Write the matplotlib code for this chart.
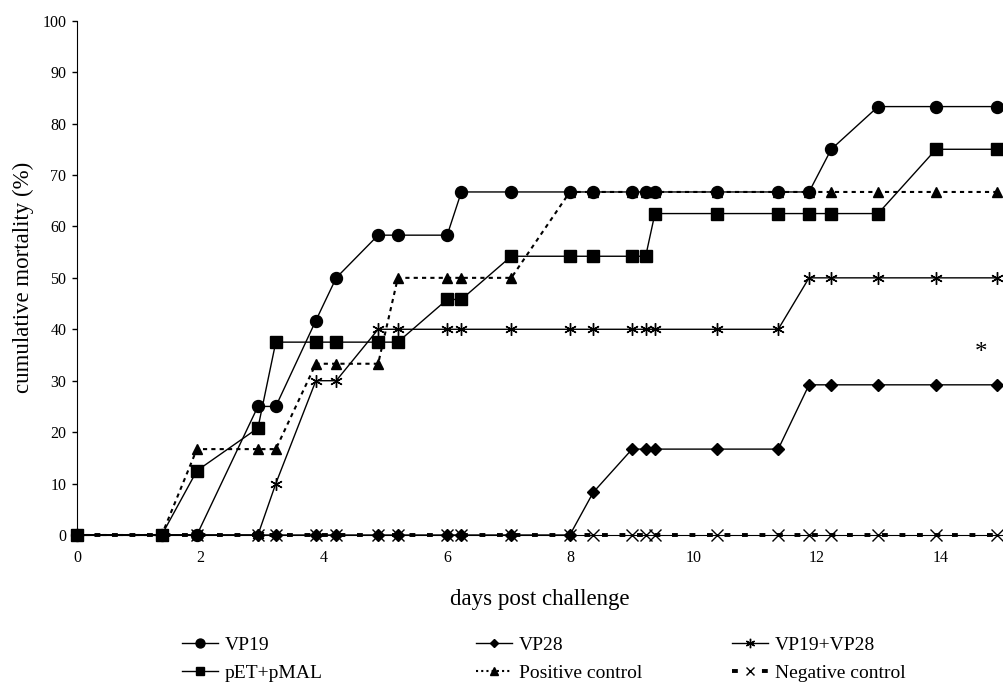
import matplotlib
matplotlib.use("Agg")
import matplotlib.pyplot as plt
from matplotlib.lines import Line2D

plt.rcParams['font.family'] = ['Liberation Serif', 'DejaVu Serif']

# sampling times (days post challenge)
days = [0, 1.37, 1.94, 2.93, 3.22, 3.87, 4.2, 4.88, 5.2, 6.0, 6.23, 7.04,
        7.99, 8.37, 9.0, 9.22, 9.37, 10.38, 11.37, 11.87, 12.23, 12.99, 13.93, 14.92]

# cumulative mortality (%) per group
vp19 = [0, 0, 0, 25, 25, 41.7, 50, 58.3, 58.3, 58.3, 66.7, 66.7,
        66.7, 66.7, 66.7, 66.7, 66.7, 66.7, 66.7, 66.7, 75, 83.3, 83.3, 83.3]
vp28 = [0, 0, 0, 0, 0, 0, 0, 0, 0, 0, 0, 0,
        0, 8.3, 16.7, 16.7, 16.7, 16.7, 16.7, 29.2, 29.2, 29.2, 29.2, 29.2]
vp19_vp28 = [0, 0, 0, 0, 10, 30, 30, 40, 40, 40, 40, 40,
             40, 40, 40, 40, 40, 40, 40, 50, 50, 50, 50, 50]
pet_pmal = [0, 0, 12.5, 20.8, 37.5, 37.5, 37.5, 37.5, 37.5, 45.8, 45.8, 54.2,
            54.2, 54.2, 54.2, 54.2, 62.5, 62.5, 62.5, 62.5, 62.5, 62.5, 75, 75]
positive = [0, 0, 16.7, 16.7, 16.7, 33.3, 33.3, 33.3, 50, 50, 50, 50,
            66.7, 66.7, 66.7, 66.7, 66.7, 66.7, 66.7, 66.7, 66.7, 66.7, 66.7, 66.7]
negative = [0] * len(days)

W, H = 1004, 684
fig = plt.figure(figsize=(W / 100, H / 100), dpi=100)
ax = fig.add_axes([77.3 / W, 149 / H, (1002 - 77.3) / W, (535 - 20.7) / H])

ast = (6, 2, 0)
styles = {
    'VP19': (vp19, dict(marker='o', ms=8.6, ls='-', lw=1.0)),
    'VP28': (vp28, dict(marker='D', ms=5.8, ls='-', lw=1.0)),
    'VP19+VP28': (vp19_vp28, dict(marker=ast, ms=9, mew=1.0, ls='-', lw=1.0)),
    'pET+pMAL': (pet_pmal, dict(marker='s', ms=8, ls='-', lw=1.0)),
    'Positive control': (positive, dict(marker='^', ms=7.5, ls=(0, (2, 2)), lw=1.5)),
    'Negative control': (negative, dict(marker='x', ms=8.5, mew=1.0, ls=(0, (1.5, 3)), lw=2.8)),
}

for name, (vals, kw) in styles.items():
    ax.plot(days, vals, color='black', clip_on=False, **kw)

ax.set_xlim(0, 15)
ax.set_ylim(0, 100)
ax.set_xticks(range(0, 15, 2))
ax.set_yticks(range(0, 101, 10))
ax.spines['top'].set_visible(False)
ax.spines['right'].set_visible(False)
ax.tick_params(axis='x', length=0, pad=11, labelsize=11.5)
ax.tick_params(axis='y', length=3.4, width=1, pad=4.5, labelsize=11.5)
ax.set_xlabel('days post challenge', fontsize=16.5, labelpad=16)
ax.set_ylabel('cumulative mortality (%)', fontsize=16.5, labelpad=6)

ax.text(14.66, 35.4, '*', fontsize=18, ha='center', va='center')

# legend laid out as three columns of two rows
legend_ls = {'Positive control': (0, (1, 1.5)), 'Negative control': (0, (1.5, 6.2))}
cols = [(['VP19', 'pET+pMAL'], 182), (['VP28', 'Positive control'], 476),
        (['VP19+VP28', 'Negative control'], 732)]
for names, x in cols:
    hs = []
    for nm in names:
        kw = dict(styles[nm][1])
        kw['ms'] = kw['ms'] * 0.75
        if nm in legend_ls:
            kw['ls'] = legend_ls[nm]
        hs.append(Line2D([], [], color='black', **kw))
    fig.legend(hs, names, loc='upper left', bbox_to_anchor=(x / W, 1 - 636 / H),
               frameon=False, fontsize=14, borderpad=0, borderaxespad=0,
               handlelength=1.85, handletextpad=0.35, labelspacing=0.55)

fig.savefig('out.png', dpi=100)
